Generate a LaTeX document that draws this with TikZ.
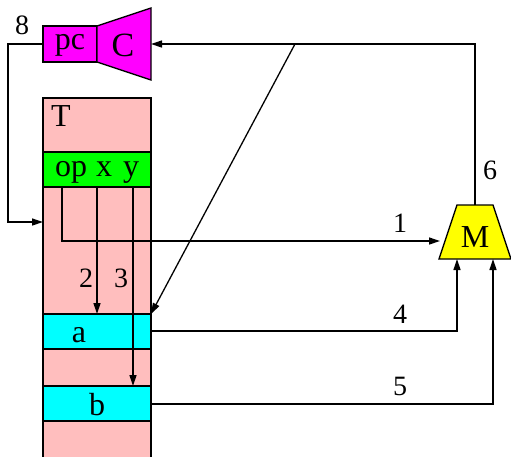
\documentclass[tikz,border=0pt]{standalone}
\usepackage{fontspec}
\setmainfont{Liberation Serif}
\usetikzlibrary{arrows.meta}
\definecolor{tpink}{RGB}{255,190,190}
\definecolor{tgreen}{RGB}{0,255,0}
\definecolor{tcyan}{RGB}{0,255,255}
\definecolor{tmag}{RGB}{255,0,255}
\definecolor{tyel}{RGB}{255,255,0}
\begin{document}
\begin{tikzpicture}[x=1pt,y=-1pt,
  box/.style={draw,line width=1.3pt,inner sep=0pt},
  conn/.style={line width=1.3pt,-{Triangle[length=11pt,width=7pt]}},
  lbl/.style={font=\fontsize{28}{30}\selectfont,inner sep=0pt,anchor=base},
  txt/.style={font=\fontsize{32}{34}\selectfont,inner sep=0pt,anchor=base}]
\useasboundingbox (0,0) rectangle (511,456);
% T column
\fill[tpink] (43,98) rectangle (151,460);
\draw[line width=1.3pt] (43,460) -- (43,98) -- (151,98) -- (151,460);
\node[txt,anchor=base west] (T) at (51,126) {T};
\path[box,fill=tgreen] (43,152) rectangle (151,187);
\coordinate (opx) at (62,187);
\coordinate (xx) at (97,187);
\coordinate (yx) at (133,187);
\node[txt] at (71,176) {op};
\node[txt] at (104,176) {x};
\node[txt] at (131,176) {y};
\path[box,fill=tcyan] (43,314) rectangle (151,349);
\node[txt] (a) at (79,342) {a};
\path[box,fill=tcyan] (43,386) rectangle (151,421);
\node[txt] (b) at (97,415) {b};
\coordinate (ar) at (151,331);
\coordinate (br) at (151,404);
% pc and C
\path[box,fill=tmag] (43,26) rectangle (97,62);
\node[txt] (pc) at (70,49) {pc};
\path[box,fill=tmag] (97,26) -- (151,8) -- (151,80) -- (97,62) -- cycle;
\node[txt,font=\fontsize{34}{36}\selectfont] (C) at (123,56) {C};
% M
\path[box,fill=tyel] (457,205) -- (493,205) -- (511,259) -- (439,259) -- cycle;
\node[txt] (M) at (475,247) {M};
% connectors
\draw[conn] (43,44) -- (8,44) -- (8,222) -- (43,222);
\node[lbl] at (22,34) {8};
\draw[conn] (opx) -- (62,241) -- (440,241);
\node[lbl] at (400,232) {1};
\draw[conn] (xx) -- (97,314);
\node[lbl] at (86,287) {2};
\draw[conn] (yx) -- (133,386);
\node[lbl] at (121,287) {3};
\draw[conn] (ar) -- (457,331) -- (457,259);
\node[lbl] at (400,323) {4};
\draw[conn] (br) -- (493,404) -- (493,259);
\node[lbl] at (400,395) {5};
\draw[conn] (475,205) -- (475,44) -- (151,44);
\node[lbl] at (490,179) {6};
\draw[conn] (295,44) -- (151,314);
\end{tikzpicture}
\end{document}
